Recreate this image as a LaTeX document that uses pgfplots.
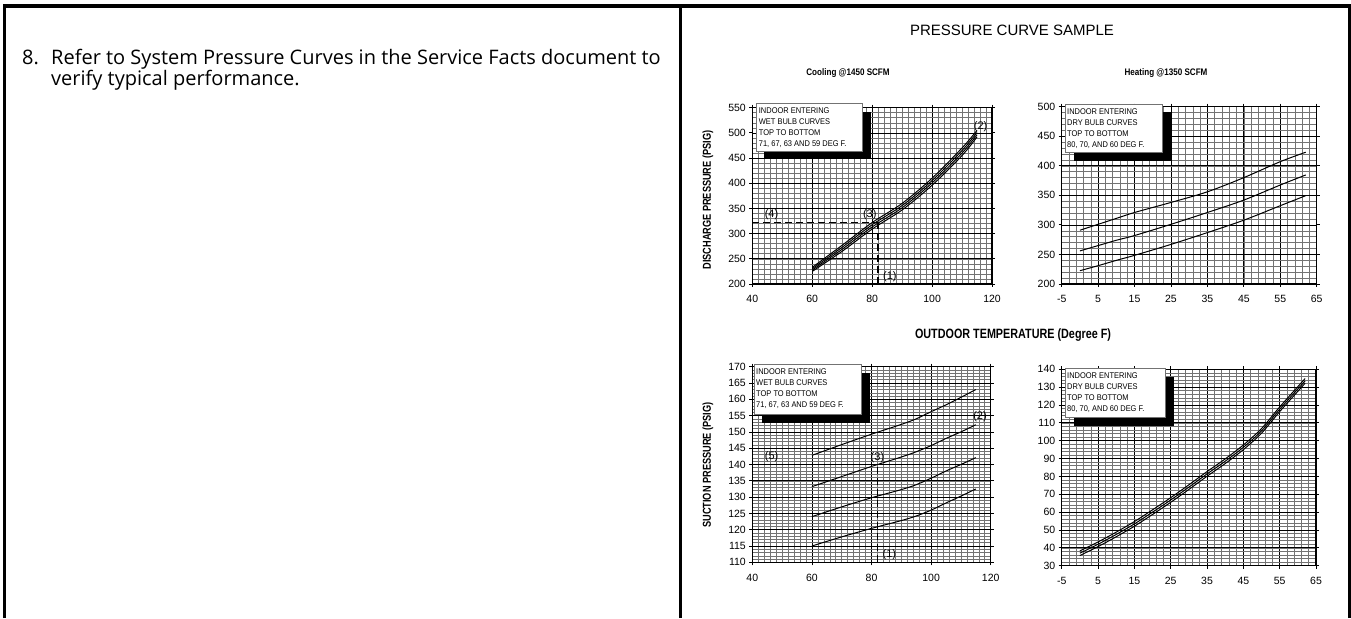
\documentclass[border=0pt]{standalone}
\usepackage{pgfplots}
\pgfplotsset{compat=1.18}
\usepackage{fontspec}
\setmainfont{Liberation Sans}
\newfontfamily\bodyfont{Open Sans}
\pgfplotsset{
  pcs/.style={
    scale only axis,
    axis background/.style={fill=white},
    tick align=outside, major tick length=3pt, minor tick length=0pt,
    tick style={black, line width=0.8pt},
    axis line style={black, line width=1.1pt},
    grid=both,
    major grid style={black, line width=0.75pt},
    minor grid style={black!55, line width=0.55pt},
    tick label style={font=\fontsize{10.5}{12}\selectfont},
    xticklabel shift=5pt,
    /pgf/number format/assume math mode=true,
    ylabel style={font=\bfseries\fontsize{11.5}{13}\selectfont, anchor=center},
  },
  curve/.style={black, line width=1pt, smooth},
  dash/.style={black, line width=1.7pt, dash pattern=on 7pt off 4pt},
}
\newcommand{\lab}[1]{\fontsize{11}{12}\selectfont #1}
\begin{document}
\begin{tikzpicture}[x=1pt,y=1pt]
\useasboundingbox (0,0) rectangle (1351,618);
% frame
\draw[line width=3.5pt] (3,612) -- (1351,612);
\draw[line width=3pt] (4.5,0) -- (4.5,613.75);
\draw[line width=3pt] (680,0) -- (680,613.75);
\draw[line width=3pt] (1349,0) -- (1349,613.75);
% left text
\node[anchor=base west, inner sep=0, font=\bodyfont\fontsize{20}{24}\selectfont] at (22,553) {8.};
\node[anchor=base west, inner sep=0, font=\bodyfont\fontsize{20}{24}\selectfont] at (51,553) {Refer to System Pressure Curves in the Service Facts document to};
\node[anchor=base west, inner sep=0, font=\bodyfont\fontsize{20}{24}\selectfont] at (51,532) {verify typical performance.};
% titles
\node[font=\fontsize{15}{18}\selectfont] at (1012,588) {PRESSURE CURVE SAMPLE};
\node[font=\bfseries\fontsize{9.5}{11}\selectfont] at (848,545) {\scalebox{0.85}[1]{Cooling @1450 SCFM}};
\node[font=\bfseries\fontsize{9.5}{11}\selectfont] at (1166,545) {\scalebox{0.85}[1]{Heating @1350 SCFM}};
\node[font=\bfseries\fontsize{13.5}{15}\selectfont] at (1013,283) {\scalebox{0.8}[1]{OUTDOOR TEMPERATURE (Degree F)}};

% ---------- Cooling discharge ----------
\begin{axis}[pcs, at={(752.3pt,334pt)}, anchor=south west, width=239.7pt, height=176.3pt,
  xmin=40, xmax=120, ymin=200, ymax=550,
  xtick={40,60,...,120}, ytick={200,250,...,550},
  minor xtick={42,44,...,118}, minor ytick={210,220,...,540},
  ylabel={\scalebox{0.8}[1]{DISCHARGE PRESSURE (PSIG)}},
  ylabel style={at={(axis description cs:-0.185,0.476)}}]
\addplot[curve] coordinates {(60,233)(70,277)(80,322)(90,360)(100,410)(110,470)(115,505)};
\addplot[curve] coordinates {(60,230.3)(70,273)(80,317.7)(90,355.7)(100,405.3)(110,465)(115,500.7)};
\addplot[curve] coordinates {(60,227.7)(70,269)(80,313.3)(90,351.3)(100,400.7)(110,460)(115,496.3)};
\addplot[curve] coordinates {(60,225)(70,265)(80,309)(90,347)(100,396)(110,455)(115,492)};
\addplot[dash] coordinates {(82,200)(82,322)};
\addplot[dash] coordinates {(40,322)(82,322)};
\node at (axis cs:46.4,338) {\lab{(4)}};
\node at (axis cs:79.2,338) {\lab{(3)}};
\node at (axis cs:85.9,214) {\lab{(1)}};
\node at (axis cs:116.2,512) {\lab{(2)}};
\end{axis}

% ---------- Heating discharge ----------
\begin{axis}[pcs, at={(1061.7pt,334pt)}, anchor=south west, width=255pt, height=177.3pt,
  xmin=-5, xmax=65, ymin=200, ymax=500,
  xtick={-5,5,...,65}, ytick={200,250,...,500},
  minor xtick={-3,-1,...,63}, minor ytick={210,220,...,490}]
\addplot[curve] coordinates {(0,291)(5,301)(10,311)(15,321)(25,338)(35,356)(45,380)(55,407)(62,423)};
\addplot[curve] coordinates {(0,256)(5,265)(10,274)(15,282)(25,301)(35,321)(45,342)(55,367.5)(62,384.5)};
\addplot[curve] coordinates {(0,222.5)(5,231)(10,240)(15,248.5)(25,267)(35,287)(45,308)(55,332.5)(62,349.5)};
\end{axis}

% ---------- Cooling suction ----------
\begin{axis}[pcs, at={(752.3pt,55.7pt)}, anchor=south west, width=238.4pt, height=195.6pt,
  xmin=40, xmax=120, ymin=110, ymax=170,
  xtick={40,60,...,120}, ytick={110,115,...,170},
  minor xtick={42,44,...,118}, minor ytick={111,112,...,169},
  ylabel={\scalebox{0.8}[1]{SUCTION PRESSURE (PSIG)}},
  ylabel style={at={(axis description cs:-0.186,0.497)}}]
\addplot[curve] coordinates {(60,142.8)(70,146.1)(80,149.3)(90,152.3)(95,154)(100,156.2)(105,158.3)(110,160.6)(115,163)};
\addplot[curve] coordinates {(60,133.2)(70,136.3)(80,139.4)(90,142.3)(95,143.9)(100,145.8)(105,148)(110,150)(115,152.2)};
\addplot[curve] coordinates {(60,124)(70,127)(80,129.8)(90,132.3)(95,133.8)(100,135.8)(105,138)(110,140)(115,142.1)};
\addplot[curve] coordinates {(60,115)(70,117.8)(80,120.4)(90,122.8)(95,124.2)(100,126)(105,128.2)(110,130.3)(115,132.5)};
\addplot[dash] coordinates {(82,110)(82,140)};
\addplot[dash] coordinates {(40,140)(82,140)};
\node at (axis cs:46.5,142.5) {\lab{(5)}};
\node at (axis cs:82,142.2) {\lab{(3)}};
\node at (axis cs:86,112.3) {\lab{(1)}};
\node at (axis cs:116.4,154.7) {\lab{(2)}};
\end{axis}

% ---------- Heating suction ----------
\begin{axis}[pcs, at={(1061.7pt,52.3pt)}, anchor=south west, width=254.3pt, height=196.4pt,
  xmin=-5, xmax=65, ymin=30, ymax=140,
  xtick={-5,5,...,65}, ytick={30,40,...,140},
  minor xtick={-3,-1,...,63}, minor ytick={32,34,...,138}]
\addplot[curve] coordinates {(0,38.3)(5,43.3)(10,48.8)(15,54.7)(20,61.3)(25,68.1)(30,75.3)(35,82.7)(40,89.8)(45,97.6)(50,106.8)(55,118.9)(62,134.8)};
\addplot[curve] coordinates {(0,37)(5,42)(10,47.5)(15,53.4)(20,60)(25,66.8)(30,74)(35,81.4)(40,88.5)(45,96.3)(50,105.5)(55,117.6)(62,133.5)};
\addplot[curve] coordinates {(0,35.7)(5,40.7)(10,46.2)(15,52.1)(20,58.7)(25,65.5)(30,72.7)(35,80.1)(40,87.2)(45,95)(50,104.2)(55,116.3)(62,132.2)};
\end{axis}

% ---------- legend boxes ----------
\newcommand{\legbox}[9]{%
  \fill[black] (#5,#6) rectangle (#7,#8);
  \filldraw[fill=white, draw=black!55, line width=0.6pt] (#1,#2) rectangle (#3,#4);
  \node[anchor=west, inner sep=0, font=\fontsize{8.3}{10}\selectfont, align=left] at (#1+2,#2-24.3) {#9};
}
\legbox{756.7}{515}{862.7}{466.3}{764}{505.7}{870.7}{458.7}{%
  \scalebox{0.9}[1]{INDOOR ENTERING}\\[1pt]\scalebox{0.9}[1]{WET BULB CURVES}\\[1pt]\scalebox{0.9}[1]{TOP TO BOTTOM}\\[1pt]\scalebox{0.9}[1]{71, 67, 63 AND 59 DEG F.}}
\legbox{1065}{513.7}{1162.3}{465.7}{1074}{505.7}{1171.7}{457.3}{%
  \scalebox{0.9}[1]{INDOOR ENTERING}\\[1pt]\scalebox{0.9}[1]{DRY BULB CURVES}\\[1pt]\scalebox{0.9}[1]{TOP TO BOTTOM}\\[1pt]\scalebox{0.9}[1]{80, 70, AND 60 DEG F.}}
\legbox{754}{253.7}{861.7}{203.7}{761.7}{244.7}{870}{195.3}{%
  \scalebox{0.9}[1]{INDOOR ENTERING}\\[1pt]\scalebox{0.9}[1]{WET BULB CURVES}\\[1pt]\scalebox{0.9}[1]{TOP TO BOTTOM}\\[1pt]\scalebox{0.9}[1]{71, 67, 63 AND 59 DEG F.}}
\legbox{1065}{249.7}{1165}{200.7}{1074}{241.3}{1174}{192}{%
  \scalebox{0.9}[1]{INDOOR ENTERING}\\[1pt]\scalebox{0.9}[1]{DRY BULB CURVES}\\[1pt]\scalebox{0.9}[1]{TOP TO BOTTOM}\\[1pt]\scalebox{0.9}[1]{80, 70, AND 60 DEG F.}}
\end{tikzpicture}
\end{document}
